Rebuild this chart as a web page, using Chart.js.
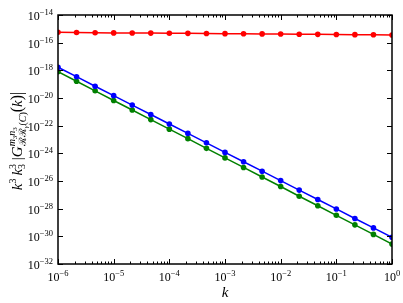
<!DOCTYPE html>
<html>
<head>
<meta charset="utf-8">
<script src="https://cdn.jsdelivr.net/npm/chart.js"></script>
<style>
  html, body { margin: 0; padding: 0; background: #fff; }
</style>
</head>
<body>
<canvas id="chart" width="403" height="303"></canvas>
<script>
// k grid, three points per decade
const kValues = [1e-6, 2.154e-6, 4.642e-6, 1e-5, 2.154e-5, 4.642e-5, 1e-4, 2.154e-4, 4.642e-4,
                 1e-3, 2.154e-3, 4.642e-3, 1e-2, 2.154e-2, 4.642e-2, 1e-1, 2.154e-1, 4.642e-1, 1];

const redSeries = [5.6e-16, 5.4e-16, 5.2e-16, 5.1e-16, 5.0e-16, 4.9e-16, 4.8e-16, 4.7e-16, 4.6e-16,
                   4.5e-16, 4.4e-16, 4.3e-16, 4.2e-16, 4.1e-16, 4.0e-16, 3.9e-16, 3.8e-16, 3.7e-16, 3.6e-16];

const blueSeries = [1.66e-18, 3.47e-19, 7.08e-20, 1.48e-20, 3.09e-21, 6.46e-22, 1.32e-22, 2.75e-23, 5.75e-24,
                    1.17e-24, 2.45e-25, 5.13e-26, 1.07e-26, 2.19e-27, 4.57e-28, 9.55e-29, 1.95e-29, 4.07e-30, 8.5e-31];

const greenSeries = [7.94e-19, 1.62e-19, 3.31e-20, 6.61e-21, 1.35e-21, 2.75e-22, 5.62e-23, 1.15e-23, 2.29e-24,
                     4.68e-25, 9.55e-26, 1.95e-26, 3.98e-27, 7.94e-28, 1.62e-28, 3.31e-29, 6.76e-30, 1.38e-30, 2.75e-31];

// tick exponents
const xTickExps = [-6, -5, -4, -3, -2, -1, 0];
const yTickExps = [-32, -30, -28, -26, -24, -22, -20, -18, -16, -14];

const SERIF = '"Liberation Serif", "DejaVu Serif", serif';

function toPoints(ys) {
    return kValues.map((k, i) => ({ x: k, y: ys[i] }));
}

function font(size, italic) {
    return (italic ? 'italic ' : '') + size + 'px ' + SERIF;
}

// draw "10^exp"
function powLabel(ctx, x, y, exp, align) {
    const sup = exp === 0 ? '0' : '\u2212' + Math.abs(exp);
    ctx.font = font(12);
    const wb = ctx.measureText('10').width;
    ctx.font = font(8.5);
    const ws = ctx.measureText(sup).width;
    const x0 = align === 'right' ? x - wb - ws : x - (wb + ws) / 2;
    ctx.textAlign = 'left';
    ctx.textBaseline = 'alphabetic';
    ctx.font = font(12);
    ctx.fillText('10', x0, y);
    ctx.font = font(8.5);
    ctx.fillText(sup, x0 + wb, y - 5);
}

// rich text runs for the y label
function runWidth(ctx, run) {
    let w = 0;
    run.forEach(it => {
        if (it.stack) {
            w += Math.max(...it.stack.map(r => runWidth(ctx, r)));
        } else {
            ctx.font = font(it.s, it.it);
            w += ctx.measureText(it.t).width;
        }
    });
    return w;
}

function drawRun(ctx, run, x, y) {
    run.forEach(it => {
        if (it.stack) {
            it.stack.forEach(r => drawRun(ctx, r, x, y));
            x += Math.max(...it.stack.map(r => runWidth(ctx, r)));
        } else {
            ctx.font = font(it.s, it.it);
            ctx.fillText(it.t, x, y + (it.dy || 0));
            x += ctx.measureText(it.t).width;
        }
    });
    return x;
}

const yLabelRun = [
    { t: 'k', s: 15, it: 1 },
    { t: '3', s: 10, dy: -6 },
    { t: ' ', s: 12 },
    { t: 'k', s: 15, it: 1 },
    { stack: [[{ t: '3', s: 10, dy: -6 }], [{ t: '3', s: 10, dy: 3 }]] },
    { t: ' |', s: 15 },
    { t: 'G', s: 15, it: 1 },
    { stack: [
        [{ t: 'm', s: 10, it: 1, dy: -7 }, { t: '3', s: 7, dy: -5 }, { t: 'n', s: 10, it: 1, dy: -7 }, { t: '3', s: 7, dy: -5 }],
        [{ t: '\u211B\u211B', s: 10, dy: 4 }, { t: '\u03B3', s: 7, it: 1, dy: 6 }, { t: '(', s: 10, dy: 4 }, { t: 'C', s: 10, it: 1, dy: 4 }, { t: ')', s: 10, dy: 4 }]
    ] },
    { t: '(', s: 16 },
    { t: 'k', s: 15, it: 1 },
    { t: ')|', s: 16 }
];

// frame, inward ticks, tick labels and axis titles
const axesPlugin = {
    id: 'axesPlugin',
    afterDraw(chart) {
        const ctx = chart.ctx;
        const area = chart.chartArea;
        const xs = chart.scales.x;
        const ys = chart.scales.y;
        ctx.save();
        ctx.strokeStyle = '#000';
        ctx.fillStyle = '#000';
        ctx.lineWidth = 1;

        ctx.beginPath();
        // x ticks, major and minor
        xTickExps.forEach(e => {
            const px = Math.round(xs.getPixelForValue(Math.pow(10, e))) + 0.5;
            ctx.moveTo(px, area.bottom); ctx.lineTo(px, area.bottom - 5);
            ctx.moveTo(px, area.top); ctx.lineTo(px, area.top + 5);
            if (e < 0) {
                for (let m = 2; m <= 9; m++) {
                    const p = Math.round(xs.getPixelForValue(m * Math.pow(10, e))) + 0.5;
                    ctx.moveTo(p, area.bottom); ctx.lineTo(p, area.bottom - 2.5);
                    ctx.moveTo(p, area.top); ctx.lineTo(p, area.top + 2.5);
                }
            }
        });
        yTickExps.forEach(e => {
            const py = Math.round(ys.getPixelForValue(Math.pow(10, e))) + 0.5;
            ctx.moveTo(area.left, py); ctx.lineTo(area.left + 5, py);
            ctx.moveTo(area.right, py); ctx.lineTo(area.right - 5, py);
        });
        ctx.stroke();

        ctx.lineWidth = 1.5;
        ctx.strokeRect(area.left, area.top, area.right - area.left, area.bottom - area.top);

        xTickExps.forEach(e => {
            powLabel(ctx, xs.getPixelForValue(Math.pow(10, e)), 281, e, 'center');
        });
        yTickExps.forEach(e => {
            powLabel(ctx, 53, ys.getPixelForValue(Math.pow(10, e)) + 5, e, 'right');
        });

        // x title
        ctx.font = font(15, true);
        ctx.textAlign = 'center';
        ctx.fillText('k', (area.left + area.right) / 2, 297);

        // y title, rotated
        ctx.translate(18, 141);
        ctx.rotate(-Math.PI / 2);
        ctx.textAlign = 'left';
        const w = runWidth(ctx, yLabelRun);
        drawRun(ctx, yLabelRun, -w / 2, 4);
        ctx.restore();
    }
};

function series(data, color) {
    return {
        data: toPoints(data),
        borderColor: color,
        backgroundColor: color,
        borderWidth: 1.5,
        pointRadius: 2.8,
        pointBorderWidth: 0,
        pointBackgroundColor: color,
        tension: 0,
        clip: 0
    };
}

new Chart(document.getElementById('chart').getContext('2d'), {
    type: 'line',
    data: {
        datasets: [
            series(redSeries, '#ff0000'),
            series(blueSeries, '#0000ff'),
            series(greenSeries, '#008000')
        ]
    },
    options: {
        responsive: false,
        devicePixelRatio: 1,
        animation: false,
        layout: { padding: { top: 15, right: 11, left: 0, bottom: 0 } },
        plugins: { legend: { display: false }, tooltip: { enabled: false } },
        scales: {
            x: {
                type: 'logarithmic',
                min: 1e-6,
                max: 1,
                grid: { display: false },
                border: { display: false },
                ticks: { display: false },
                afterFit(scale) { scale.height = 39; }
            },
            y: {
                type: 'logarithmic',
                min: 1e-32,
                max: 1e-14,
                grid: { display: false },
                border: { display: false },
                ticks: { display: false },
                afterFit(scale) { scale.width = 58; }
            }
        }
    },
    plugins: [axesPlugin]
});
</script>
</body>
</html>
